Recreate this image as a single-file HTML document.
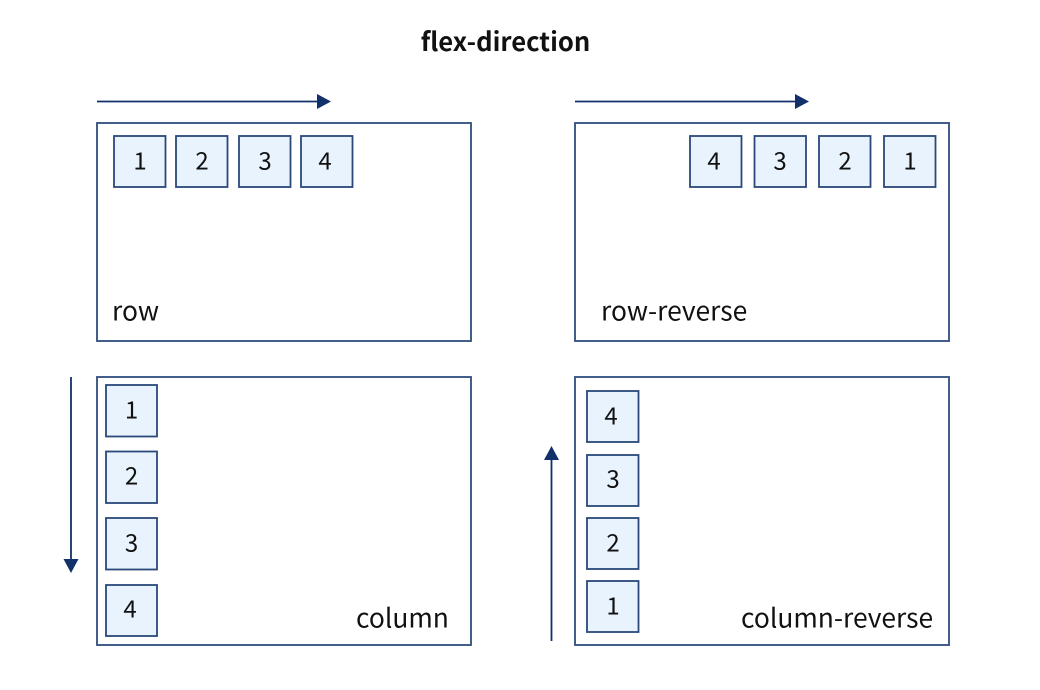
<!DOCTYPE html>
<html lang="en">
<head>
<meta charset="utf-8">
<title>flex-direction</title>
<style>
html,body{margin:0;padding:0;background:#fff;width:1040px;height:690px;overflow:hidden}
svg{display:block}
text{font-family:"Noto Sans CJK SC","Liberation Sans",sans-serif;fill:#111}
.box{fill:#fff;stroke:#2f4d7e;stroke-width:1.8}
.item{fill:#e8f3fd;stroke:#2a4879;stroke-width:1.8}
.arrow{stroke:#12306a;stroke-width:1.8;fill:none}
.head{fill:#12306a;stroke:none}
.num{font-size:24px;text-anchor:middle;dominant-baseline:central}
.label{font-size:26.400px}
</style>
</head>
<body>
<svg width="1040" height="690" viewBox="0 0 1040 690" xmlns="http://www.w3.org/2000/svg">
<text x="505.500" y="51" text-anchor="middle" style="font-size:25.600px;font-weight:700">flex-direction</text>

<g>
<line class="arrow" x1="97" y1="101.500" x2="318" y2="101.500"/>
<polygon class="head" points="317,94 331,101.500 317,109"/>
<rect class="box" x="97" y="123" width="374" height="218"/>
<rect class="item" x="114" y="136" width="51.500" height="51"/>
<text class="num" x="140" y="158.800">1</text>
<rect class="item" x="176" y="136" width="51.500" height="51"/>
<text class="num" x="202" y="158.800">2</text>
<rect class="item" x="239" y="136" width="51.500" height="51"/>
<text class="num" x="265" y="158.800">3</text>
<rect class="item" x="301" y="136" width="51.500" height="51"/>
<text class="num" x="325" y="158.800">4</text>
<text class="label" x="112" y="320.500">row</text>
</g>

<g>
<line class="arrow" x1="575" y1="101.500" x2="796" y2="101.500"/>
<polygon class="head" points="795,94 809,101.500 795,109"/>
<rect class="box" x="575" y="123" width="374" height="218"/>
<rect class="item" x="690" y="136" width="51.500" height="51"/>
<text class="num" x="714" y="158.800">4</text>
<rect class="item" x="754.500" y="136" width="51.500" height="51"/>
<text class="num" x="780" y="158.800">3</text>
<rect class="item" x="819" y="136" width="51.500" height="51"/>
<text class="num" x="845" y="158.800">2</text>
<rect class="item" x="884" y="136" width="51.500" height="51"/>
<text class="num" x="910" y="158.800">1</text>
<text class="label" x="601" y="320.500">row-reverse</text>
</g>

<g>
<line class="arrow" x1="71" y1="377" x2="71" y2="560"/>
<polygon class="head" points="63.500,559 78.500,559 71,573"/>
<rect class="box" x="97" y="377" width="374" height="268"/>
<rect class="item" x="106" y="385" width="51" height="51.500"/>
<text class="num" x="131.500" y="407.800">1</text>
<rect class="item" x="106" y="451.500" width="51" height="51.500"/>
<text class="num" x="131.500" y="473.800">2</text>
<rect class="item" x="106" y="518" width="51" height="51.500"/>
<text class="num" x="131.500" y="540.800">3</text>
<rect class="item" x="106" y="585" width="51" height="51"/>
<text class="num" x="130" y="606.800">4</text>
<text class="label" x="356" y="627.500">column</text>
</g>

<g>
<line class="arrow" x1="551.500" y1="641" x2="551.500" y2="459"/>
<polygon class="head" points="544,460 559,460 551.500,446"/>
<rect class="box" x="575" y="377" width="374" height="268"/>
<rect class="item" x="587" y="391" width="51.500" height="51"/>
<text class="num" x="611" y="413.800">4</text>
<rect class="item" x="587" y="455" width="51.500" height="51"/>
<text class="num" x="613" y="476.800">3</text>
<rect class="item" x="587" y="518" width="51.500" height="51"/>
<text class="num" x="613" y="540.800">2</text>
<rect class="item" x="587" y="581" width="51.500" height="51"/>
<text class="num" x="613" y="603.800">1</text>
<text class="label" x="741" y="627.500">column-reverse</text>
</g>
</svg>
</body>
</html>
